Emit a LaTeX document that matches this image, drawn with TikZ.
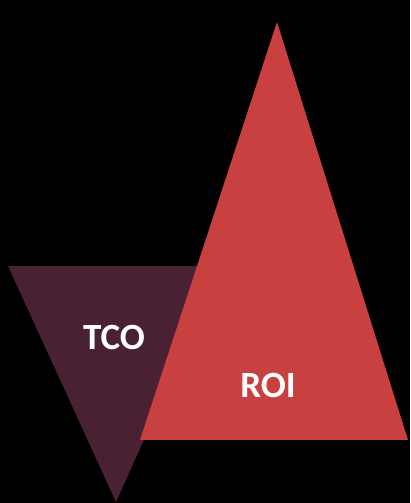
\documentclass[tikz,border=0pt]{standalone}
\usepackage{fontspec}
\setmainfont{Carlito}
\definecolor{maroon}{RGB}{74,33,51}
\definecolor{roired}{RGB}{200,64,64}
\begin{document}
\begin{tikzpicture}[x=1pt,y=1pt,
  lbl/.style={text=white,font=\fontsize{37}{40}\selectfont\bfseries,inner sep=0pt}]
\fill[black] (0,0) rectangle (410,503);
\useasboundingbox (0,0) rectangle (410,503);
\fill[maroon] (8,237) -- (222,237) -- (116,1) -- cycle;
\fill[roired] (277,481) -- (140,63) -- (408,63) -- cycle;
\node[lbl] (tco) at (114,166) {TCO};
\node[lbl] (roi) at (268,118) {ROI};
\end{tikzpicture}
\end{document}
